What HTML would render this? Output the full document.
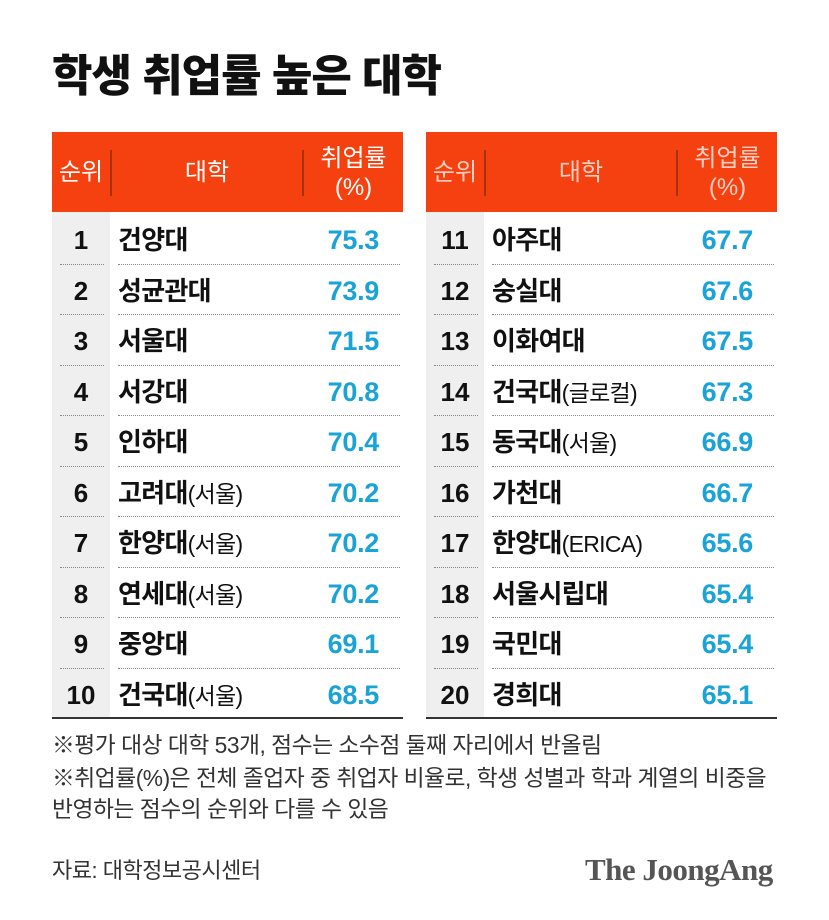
<!DOCTYPE html><html><head><meta charset="utf-8"><style>
body{margin:0;width:829px;height:920px;background:#fff;font-family:"Liberation Sans","Noto Sans CJK KR",sans-serif;position:relative;overflow:hidden}
.a{position:absolute}
h1{position:absolute;left:52px;top:50px;margin:0;font-size:44px;font-weight:900;letter-spacing:-1px;color:#111;line-height:54px}
.hd{position:absolute;top:132px;height:80px;background:#f5400f;color:#fff}
.hd div{position:absolute;font-size:24px;text-align:center;line-height:29px}
.sep{position:absolute;top:18px;width:2px;height:46px;background:#a8300c}
.gray{position:absolute;top:212px;height:506px;background:#efefef;width:58px}
.row{position:absolute;height:50.5px;font-size:25px;font-weight:bold;line-height:52px}
.rk{position:absolute;left:0;width:58px;text-align:center;color:#111;font-size:26px}
.nm{position:absolute;left:66px;color:#111;letter-spacing:-0.7px;font-size:26px}
.nm small{font-size:23px;font-weight:normal}
.v{position:absolute;right:24px;color:#1aa3d6;letter-spacing:-0.3px;font-size:27px}
.d1{position:absolute;bottom:0;left:8px;width:44px;border-bottom:1px dotted #888}
.d2{position:absolute;bottom:0;left:66px;right:3px;border-bottom:1px dotted #888}
.bl{position:absolute;top:717px;height:2px;background:#333}
.note{position:absolute;left:52px;font-size:22.8px;color:#333;line-height:31px;letter-spacing:-0.5px}
</style></head><body>
<h1>학생 취업률 높은 대학</h1>
<div id="L"></div>
<script>
const L=[["1","건양대","","75.3"],["2","성균관대","","73.9"],["3","서울대","","71.5"],["4","서강대","","70.8"],["5","인하대","","70.4"],["6","고려대","(서울)","70.2"],["7","한양대","(서울)","70.2"],["8","연세대","(서울)","70.2"],["9","중앙대","","69.1"],["10","건국대","(서울)","68.5"]];
const R=[["11","아주대","","67.7"],["12","숭실대","","67.6"],["13","이화여대","","67.5"],["14","건국대","(글로컬)","67.3"],["15","동국대","(서울)","66.9"],["16","가천대","","66.7"],["17","한양대","(ERICA)","65.6"],["18","서울시립대","","65.4"],["19","국민대","","65.4"],["20","경희대","","65.1"]];
let h="";
function tbl(x,d,fade){
 const o=fade?"opacity:.75;":"";
 h+=`<div class="hd" style="left:${x}px;width:351px"><div style="left:0;width:58px;top:26px;${o}">순위</div><div class="sep" style="left:58px"></div><div style="left:60px;width:190px;top:26px;${o}">대학</div><div class="sep" style="left:250px"></div><div style="left:252px;width:99px;top:12px;${o}">취업률<br>(%)</div></div>`;
 h+=`<div class="gray" style="left:${x}px"></div>`;
 d.forEach((r,i)=>{
  h+=`<div class="row" style="left:${x}px;width:351px;top:${214+i*50.5}px"><div class="rk">${r[0]}</div><div class="nm">${r[1]}<small>${r[2]}</small></div><div class="v">${r[3]}</div>${i<9?'<div class="d1"></div><div class="d2"></div>':''}</div>`;
 });
 h+=`<div class="bl" style="left:${x}px;width:351px"></div>`;
}
tbl(52,L,false);tbl(426,R,true);
document.getElementById("L").innerHTML=h;
</script>
<div class="note" style="top:730px">※평가 대상 대학 53개, 점수는 소수점 둘째 자리에서 반올림</div>
<div class="note" style="top:763px">※취업률(%)은 전체 졸업자 중 취업자 비율로, 학생 성별과 학과 계열의 비중을<br>반영하는 점수의 순위와 다를 수 있음</div>
<div class="note" style="top:855px;font-size:22px">자료: 대학정보공시센터</div>
<div class="a" style="left:585px;top:852px;font-family:'Liberation Serif',serif;font-weight:bold;font-size:31px;color:#555;letter-spacing:-0.5px">The JoongAng</div>
</body></html>
